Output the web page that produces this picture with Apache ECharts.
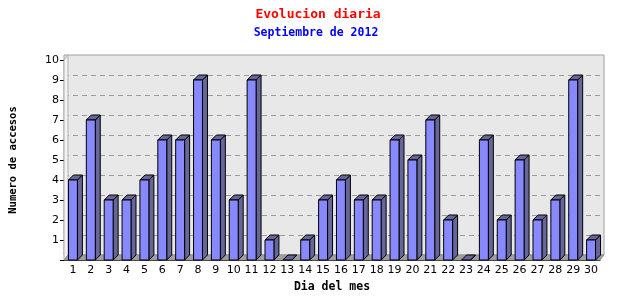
<!DOCTYPE html>
<html>
<head>
<meta charset="utf-8">
<script src="https://cdn.jsdelivr.net/npm/echarts@6/dist/echarts.min.js"></script>
<style>
  html, body { margin: 0; padding: 0; background: #fff; }
  #chart { width: 640px; height: 300px; }
</style>
</head>
<body>
<div id="chart"></div>
<script>
(function() {
  // data
  var days = ['1','2','3','4','5','6','7','8','9','10','11','12','13','14','15',
              '16','17','18','19','20','21','22','23','24','25','26','27','28','29','30'];
  var visits = [4, 7, 3, 3, 4, 6, 6, 9, 6, 3, 9, 1, 0, 1, 3,
                4, 3, 3, 6, 5, 7, 2, 0, 6, 2, 5, 2, 3, 9, 1];
  var yTicks = [0, 10, 1];  // min, max, interval

  var front = '#8888ff';
  var side = '#666699';
  var depthX = 5, depthY = 5;
  var mono = '"DejaVu Sans Mono", monospace';

  var chart = echarts.init(document.getElementById('chart'), null, { renderer: 'canvas' });

  function renderBar(params, api) {
    var idx = api.value(0);
    var v = api.value(1);
    var p0 = api.coord([idx, 0]);
    var p1 = api.coord([idx, v]);
    var w = api.size([1, 0])[0] * 0.5;
    var x0 = p0[0] - w / 2, x1 = p0[0] + w / 2;
    var yb = p0[1], yt = p1[1];
    var line = { stroke: '#000', lineWidth: 1 };
    var kids = [];
    kids.push({
      type: 'polygon',
      shape: { points: [[x1, yt], [x1 + depthX, yt - depthY], [x1 + depthX, yb - depthY], [x1, yb]] },
      style: Object.assign({ fill: side }, line)
    });
    kids.push({
      type: 'polygon',
      shape: { points: [[x0, yt], [x0 + depthX, yt - depthY], [x1 + depthX, yt - depthY], [x1, yt]] },
      style: Object.assign({ fill: side }, line)
    });
    if (v > 0) {
      kids.push({
        type: 'rect',
        shape: { x: x0, y: yt, width: w, height: yb - yt },
        style: Object.assign({ fill: front }, line)
      });
    }
    return { type: 'group', children: kids };
  }

  function renderWalls(params, api) {
    var band = api.size([1, 0])[0];
    var a = api.coord([0, yTicks[0]]);
    var b = api.coord([days.length - 1, yTicks[1]]);
    var left = a[0] - band / 2, right = b[0] + band / 2;
    var y0 = a[1], yTop = b[1];
    return {
      type: 'group',
      children: [
        {
          type: 'polygon',
          shape: { points: [[left, yTop], [left + 4, yTop - 5], [left + 4, y0 - 5], [left, y0]] },
          style: { fill: '#f2f2f2', stroke: '#b0b0b0', lineWidth: 1 }
        },
        {
          type: 'polygon',
          shape: { points: [[left, y0], [left + 4, y0 - 5], [right + 4, y0 - 5], [right, y0]] },
          style: { fill: '#a0a0a0', stroke: '#909090', lineWidth: 1 }
        }
      ]
    };
  }

  chart.setOption({
    animation: false,
    backgroundColor: '#fff',
    title: [
      {
        text: 'Evolucion diaria',
        left: 313, top: 3, textAlign: 'center',
        textStyle: { color: '#ff0000', fontFamily: mono, fontSize: 13, fontWeight: 'bold' }
      },
      {
        text: 'Septiembre de 2012',
        left: 311, top: 22, textAlign: 'center',
        textStyle: { color: '#0000ff', fontFamily: mono, fontSize: 11.5, fontWeight: 'bold' }
      }
    ],
    grid: [
      { left: 60, right: 40, top: 60, bottom: 40 },
      {
        left: 64, right: 36, top: 55, bottom: 45,
        show: true, backgroundColor: '#e8e8e8', borderColor: '#a0a0a0', borderWidth: 1
      }
    ],
    xAxis: [
      {
        type: 'category', gridIndex: 0, data: days,
        name: 'Dia del mes', nameLocation: 'middle', nameGap: 21,
        nameTextStyle: { color: '#000', fontFamily: mono, fontSize: 11.5, fontWeight: 'bold' },
        axisLine: { lineStyle: { color: '#000' } },
        axisTick: { alignWithLabel: false, length: 4, lineStyle: { color: '#000' } },
        axisLabel: { color: '#000', fontFamily: 'DejaVu Sans', fontSize: 11, margin: 5, interval: 0 },
        splitLine: { show: false }
      },
      {
        type: 'value', gridIndex: 1, min: 0, max: 1, show: false
      }
    ],
    yAxis: [
      {
        type: 'value', gridIndex: 0, min: yTicks[0], max: yTicks[1], interval: yTicks[2],
        name: 'Numero de accesos', nameLocation: 'middle', nameGap: 45,
        nameTextStyle: { color: '#000', fontFamily: mono, fontSize: 10.5, fontWeight: 'bold' },
        axisLine: { show: true, lineStyle: { color: '#000' } },
        axisTick: { show: true, length: 4, lineStyle: { color: '#000' } },
        axisLabel: {
          color: '#000', fontFamily: 'DejaVu Sans', fontSize: 11, margin: 5,
          formatter: function(v) { return v === 0 ? '' : v; }
        },
        splitLine: { show: false }
      },
      {
        type: 'value', gridIndex: 1, min: yTicks[0], max: yTicks[1], interval: yTicks[2],
        axisLine: { show: false }, axisTick: { show: false }, axisLabel: { show: false },
        splitLine: {
          show: true, showMinLine: false, showMaxLine: false,
          lineStyle: { color: '#999', type: [5, 4], width: 1 }
        }
      }
    ],
    series: [
      {
        type: 'custom', xAxisIndex: 0, yAxisIndex: 0, z: 1, clip: false, silent: true,
        renderItem: renderWalls,
        data: [[0, 0]]
      },
      {
        type: 'custom', xAxisIndex: 0, yAxisIndex: 0, z: 3, clip: false,
        renderItem: renderBar,
        encode: { x: 0, y: 1 },
        data: visits.map(function(v, i) { return [i, v]; })
      },
      {
        type: 'line', xAxisIndex: 1, yAxisIndex: 1, data: [], silent: true
      }
    ]
  });
  window.addEventListener('resize', function() { chart.resize(); });
})();
</script>
</body>
</html>
